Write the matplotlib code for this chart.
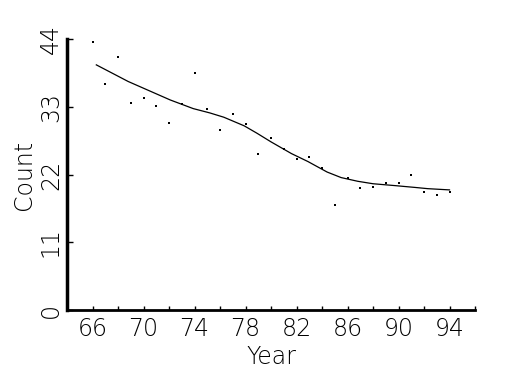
import numpy as np
import matplotlib
matplotlib.use("Agg")
import matplotlib.pyplot as plt

# yearly counts (points)
years = [66, 67, 68, 69, 70, 71, 72, 73, 74, 75, 76, 77, 78, 79, 80,
         81, 82, 83, 84, 85, 86, 87, 88, 89, 90, 91, 92, 93, 94]
counts = [43.5, 36.7, 41.0, 33.6, 34.5, 33.1, 30.4, 33.4, 38.4, 32.7,
          29.2, 31.9, 30.2, 25.4, 28.0, 26.1, 24.5, 24.8, 23.0, 17.0,
          21.4, 19.8, 20.0, 20.6, 20.7, 22.0, 19.1, 18.7, 19.2]

# smoothed trend line
smooth_x = [66.3, 68.8, 72.1, 73.9, 75.2, 76.3, 77.9, 78.9, 80.0, 81.6,
            82.9, 84.4, 85.5, 86.8, 88.0, 89.7, 91.3, 92.3, 94.0]
smooth_y = [39.8, 37.1, 34.1, 32.7, 32.0, 31.3, 29.9, 28.7, 27.3, 25.4,
            24.1, 22.4, 21.5, 20.9, 20.5, 20.2, 19.9, 19.7, 19.5]

plt.rcParams['font.family'] = ['DejaVu Sans']

fig = plt.figure(figsize=(5.25, 3.75), dpi=100)
ax = fig.add_axes([67 / 525, 65 / 375, 408 / 525, 271 / 375])

ax.plot(years, counts, 's', color='black', markersize=2.1, markeredgewidth=0)
ax.plot(smooth_x, smooth_y, '-', color='black', linewidth=0.9)

ax.set_xlim(64, 96)
ax.set_ylim(0, 44)
ax.set_xticks(np.arange(66, 97, 2))
ax.set_xticklabels([str(y) if (y - 66) % 4 == 0 else '' for y in range(66, 97, 2)])
ax.set_yticks([0, 11, 22, 33, 44])
ax.set_yticklabels(['0', '11', '22', '33', '44'], rotation=90, va='center')

for s in ['top', 'right']:
    ax.spines[s].set_visible(False)
ax.spines['left'].set_linewidth(2.5)
ax.spines['bottom'].set_linewidth(2)
ax.tick_params(axis='x', direction='in', length=3, width=1, labelsize=17, pad=5)
ax.tick_params(axis='y', direction='in', length=4, width=1, labelsize=17, pad=3)
for t in ax.get_xticklabels() + ax.get_yticklabels():
    t.set_fontweight('light')

ax.set_xlabel('Year', fontsize=17, fontweight='light', labelpad=3)
ax.set_ylabel('Count', fontsize=17, fontweight='light', labelpad=2)

fig.savefig('out.png', dpi=100)
